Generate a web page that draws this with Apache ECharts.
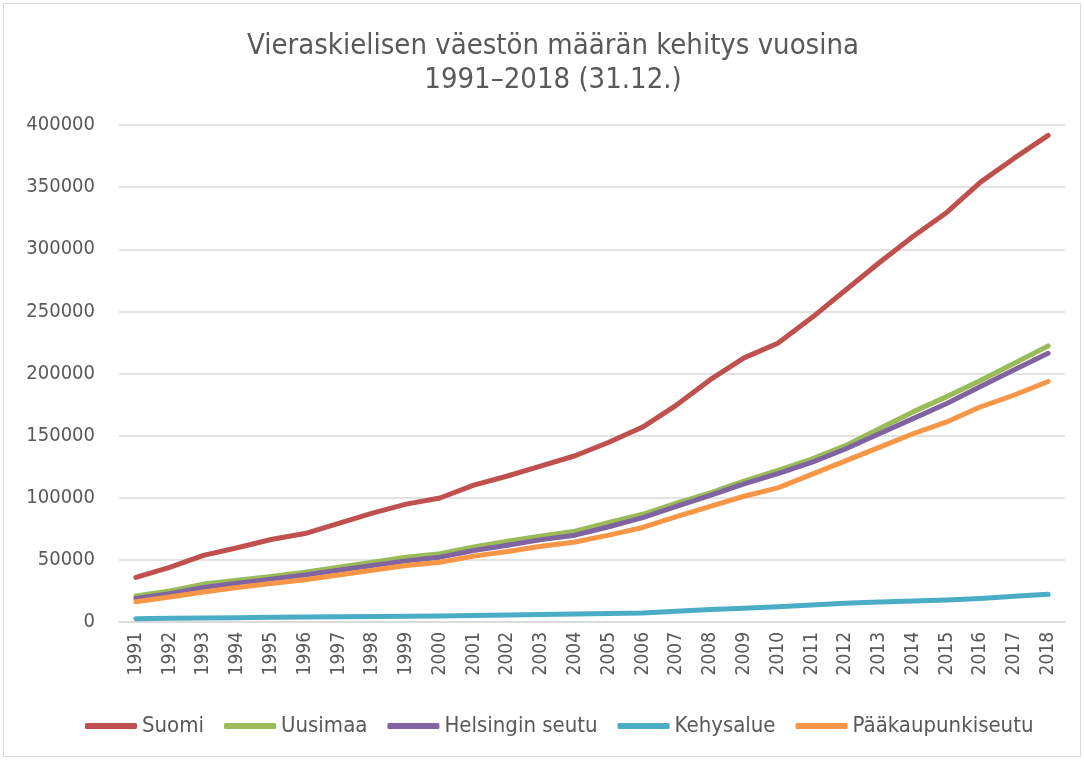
<!DOCTYPE html>
<html>
<head>
<meta charset="utf-8">
<title>Vieraskielisen väestön määrä</title>
<script src="https://cdn.jsdelivr.net/npm/echarts@6/dist/echarts.min.js"></script>
<style>
  html, body { margin: 0; padding: 0; background: #fff; }
  #chart { width: 1084px; height: 760px; }
</style>
</head>
<body>
<div id="chart"></div>
<script>
// vuodet
var years = ['1991','1992','1993','1994','1995','1996','1997','1998','1999','2000',
  '2001','2002','2003','2004','2005','2006','2007','2008','2009','2010',
  '2011','2012','2013','2014','2015','2016','2017','2018'];

// sarjat (luettu kuvasta)
var suomi = [35900, 44000, 53600, 59800, 66400, 71200, 79400, 87600, 94900, 99800,
  110100, 117500, 125600, 133800, 144700, 156900, 174600, 195000, 212600, 224400,
  244800, 267000, 289100, 310300, 329600, 354000, 373300, 391700];
var uusimaa = [20900, 25000, 30500, 33700, 36700, 40000, 44100, 48100, 52200, 54900,
  60400, 65000, 69300, 73100, 80200, 86700, 95700, 103900, 113400, 122100,
  131100, 141900, 155500, 169100, 181400, 194300, 208200, 222200];
var helsinginSeutu = [19000, 22800, 27700, 31300, 34500, 37800, 41600, 45400, 49200, 52200,
  57600, 61700, 66300, 69900, 76700, 84000, 93000, 102000, 111200, 119400,
  128400, 139200, 151500, 163700, 175900, 189500, 203100, 216200];
var kehysalue = [2700, 3000, 3200, 3500, 3800, 4000, 4200, 4500, 4700, 4900,
  5300, 5700, 6000, 6400, 6800, 7300, 8700, 10000, 11100, 12200,
  13600, 15000, 16000, 16900, 17700, 19000, 20700, 22300];
var paakaupunkiseutu = [16300, 20100, 24200, 27700, 31000, 34000, 37800, 41600, 45400, 48100,
  53000, 56800, 60900, 64400, 69900, 76100, 84800, 93000, 101200, 108000,
  118800, 129700, 140600, 151500, 161000, 173200, 182700, 193600];

var names = ['Suomi', 'Uusimaa', 'Helsingin seutu', 'Kehysalue', 'Pääkaupunkiseutu'];
var colors = ['#C0504D', '#9BBB59', '#8064A2', '#4BACC6', '#F79646'];
var values = [suomi, uusimaa, helsinginSeutu, kehysalue, paakaupunkiseutu];

var font = "'DejaVu Sans Condensed', 'DejaVu Sans', sans-serif";

var chart = echarts.init(document.getElementById('chart'));

var option = {
  animation: false,
  // reunaviiva
  graphic: [{
    type: 'rect',
    shape: { x: 3.5, y: 3.5, width: 1077, height: 753 },
    style: { fill: 'none', stroke: '#d9d9d9', lineWidth: 1 }
  }],
  title: {
    text: 'Vieraskielisen väestön määrän kehitys vuosina\n1991–2018 (31.12.)',
    left: 548,
    top: 24,
    textAlign: 'center',
    textStyle: {
      fontFamily: font,
      fontSize: 29,
      fontWeight: 'normal',
      color: '#595959',
      lineHeight: 34
    }
  },
  legend: {
    bottom: 18,
    left: 80,
    icon: 'roundRect',
    itemWidth: 52,
    itemHeight: 6,
    itemGap: 20,
    textStyle: { fontFamily: font, fontSize: 22, color: '#595959' },
    data: names
  },
  grid: { left: 119, right: 19, top: 125, bottom: 138 },
  xAxis: {
    type: 'category',
    data: years,
    boundaryGap: true,
    axisLine: { lineStyle: { color: '#d9d9d9', width: 1.5 } },
    axisTick: { show: false },
    axisLabel: {
      rotate: 90,
      margin: 10,
      interval: 0,
      fontFamily: font,
      fontSize: 19,
      color: '#595959'
    }
  },
  yAxis: {
    type: 'value',
    min: 0,
    max: 400000,
    interval: 50000,
    axisLine: { show: false },
    axisTick: { show: false },
    splitLine: { lineStyle: { color: '#d9d9d9', width: 1.5 } },
    axisLabel: {
      margin: 24,
      fontFamily: font,
      fontSize: 20,
      color: '#595959',
      formatter: function (v) { return String(v); }
    }
  },
  series: names.map(function (n, i) {
    return {
      name: n,
      type: 'line',
      data: values[i],
      symbol: 'none',
      color: colors[i],
      lineStyle: { width: 5, cap: 'round', join: 'round' }
    };
  })
};

chart.setOption(option);
</script>
</body>
</html>
